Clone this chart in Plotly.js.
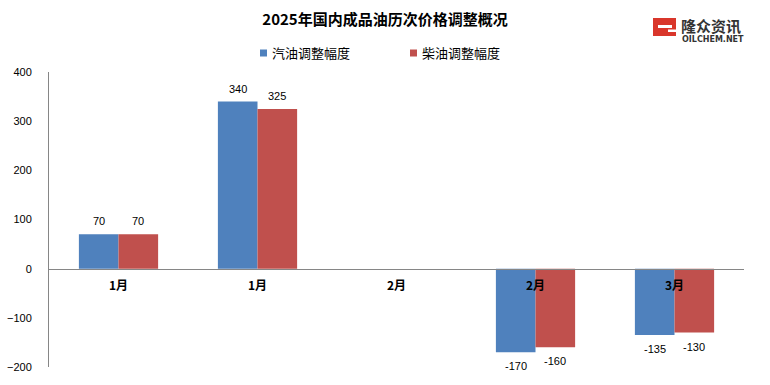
<!DOCTYPE html>
<html>
<head>
<meta charset="utf-8">
<script src="https://cdn.plot.ly/plotly-3.0.1.min.js"></script>
<style>html,body{margin:0;padding:0;background:#fff;}#chart{width:770px;height:385px;}</style>
</head>
<body>
<div id="chart"></div>
<script>
const categories = ['1月', '1月', '2月', '2月', '3月'];
const seriesNames = ['汽油调整幅度', '柴油调整幅度'];
const gasoline = [70, 340, null, -170, -135];
const diesel = [70, 325, null, -160, -130];
const yTicks = [-200, -100, 0, 100, 200, 300, 400];

const W = 770, H = 385;
const M = {l: 49, r: 26, t: 72, b: 18};
const pw = W - M.l - M.r, ph = H - M.t - M.b;
const px = x => (x - M.l) / pw;
const py = y => (H - M.b - y) / ph;

const colors = ['#4F81BD', '#C0504D'];
const font = 'Liberation Sans, Arial, Noto Sans CJK SC, sans-serif';
const cjk = 'Noto Sans CJK SC, Liberation Sans, sans-serif';
const xs = categories.map((c, i) => i);
const bargap = 0.43;
const barW = (1 - bargap) / 2;

const traces = [gasoline, diesel].map((vals, k) => ({
  type: 'bar',
  x: xs,
  y: vals,
  name: seriesNames[k],
  marker: {color: colors[k], line: {width: 0}},
  showlegend: false,
  hoverinfo: 'x+y+name'
}));

const shapes = [];
const annotations = [];

// value labels
[gasoline, diesel].forEach((vals, k) => {
  vals.forEach((v, i) => {
    if (v === null) return;
    annotations.push({xref: 'x', yref: 'y', x: i + (k === 0 ? -barW / 2 : barW / 2), y: v,
      xanchor: 'center', yanchor: 'middle', yshift: v >= 0 ? 13 : -14,
      showarrow: false, text: String(v), font: {family: font, size: 11, color: '#000'}});
  });
});

// custom legend
const legendX = [260, 410];
const legendY = 53;
seriesNames.forEach((n, k) => {
  shapes.push({type: 'rect', xref: 'paper', yref: 'paper',
    x0: px(legendX[k]), x1: px(legendX[k] + 7), y0: py(legendY + 3.5), y1: py(legendY - 3.5),
    fillcolor: colors[k], line: {width: 0}});
  annotations.push({xref: 'paper', yref: 'paper', x: px(legendX[k] + 10), y: py(legendY),
    xanchor: 'left', yanchor: 'middle', showarrow: false, text: n,
    font: {family: cjk, size: 13, color: '#000'}});
});

// logo
shapes.push({type: 'rect', xref: 'paper', yref: 'paper',
  x0: px(653), x1: px(676), y0: py(36), y1: py(18), fillcolor: '#D9362B', line: {width: 0}});
shapes.push({type: 'rect', xref: 'paper', yref: 'paper',
  x0: px(658), x1: px(672), y0: py(28), y1: py(25), fillcolor: '#fff', line: {width: 0}});
shapes.push({type: 'rect', xref: 'paper', yref: 'paper',
  x0: px(668), x1: px(676), y0: py(32), y1: py(29.5), fillcolor: '#fff', line: {width: 0}});
annotations.push({xref: 'paper', yref: 'paper', x: px(679), y: py(25), xanchor: 'left', yanchor: 'middle',
  showarrow: false, text: '<b>隆众资讯</b>', font: {family: cjk, size: 15, color: '#333'}});
annotations.push({xref: 'paper', yref: 'paper', x: px(680), y: py(40), xanchor: 'left', yanchor: 'middle',
  showarrow: false, text: '<b>OILCHEM.NET</b>', font: {family: 'DejaVu Sans, sans-serif', size: 8, color: '#333'}});

const layout = {
  width: W, height: H,
  margin: M,
  paper_bgcolor: '#fff', plot_bgcolor: '#fff',
  title: {text: '<b>2025年国内成品油历次价格调整概况</b>', font: {family: cjk, size: 15, color: '#000'},
    xref: 'container', x: 0.5, xanchor: 'center', yref: 'container', y: 1 - 20 / H, yanchor: 'middle'},
  barmode: 'group',
  bargap: bargap,
  bargroupgap: 0,
  xaxis: {
    range: [-0.5, 4.5],
    tickvals: xs, ticktext: categories,
    tickfont: {family: cjk, size: 12, color: '#000', weight: 'bold'},
    anchor: 'free', position: 1 / 3,
    showline: true, linecolor: '#868686', linewidth: 1,
    showgrid: false, zeroline: false, ticks: '', ticklabelstandoff: 6,
    fixedrange: true
  },
  yaxis: {
    range: [-200, 400],
    tickvals: yTicks,
    tickfont: {family: font, size: 11, color: '#000'},
    showline: true, linecolor: '#868686', linewidth: 1,
    showgrid: false, zeroline: false, ticks: '', ticklabelstandoff: 14,
    fixedrange: true
  },
  shapes: shapes,
  annotations: annotations,
  font: {family: font}
};

Plotly.newPlot('chart', traces, layout, {displayModeBar: false, staticPlot: true});
</script>
</body>
</html>
